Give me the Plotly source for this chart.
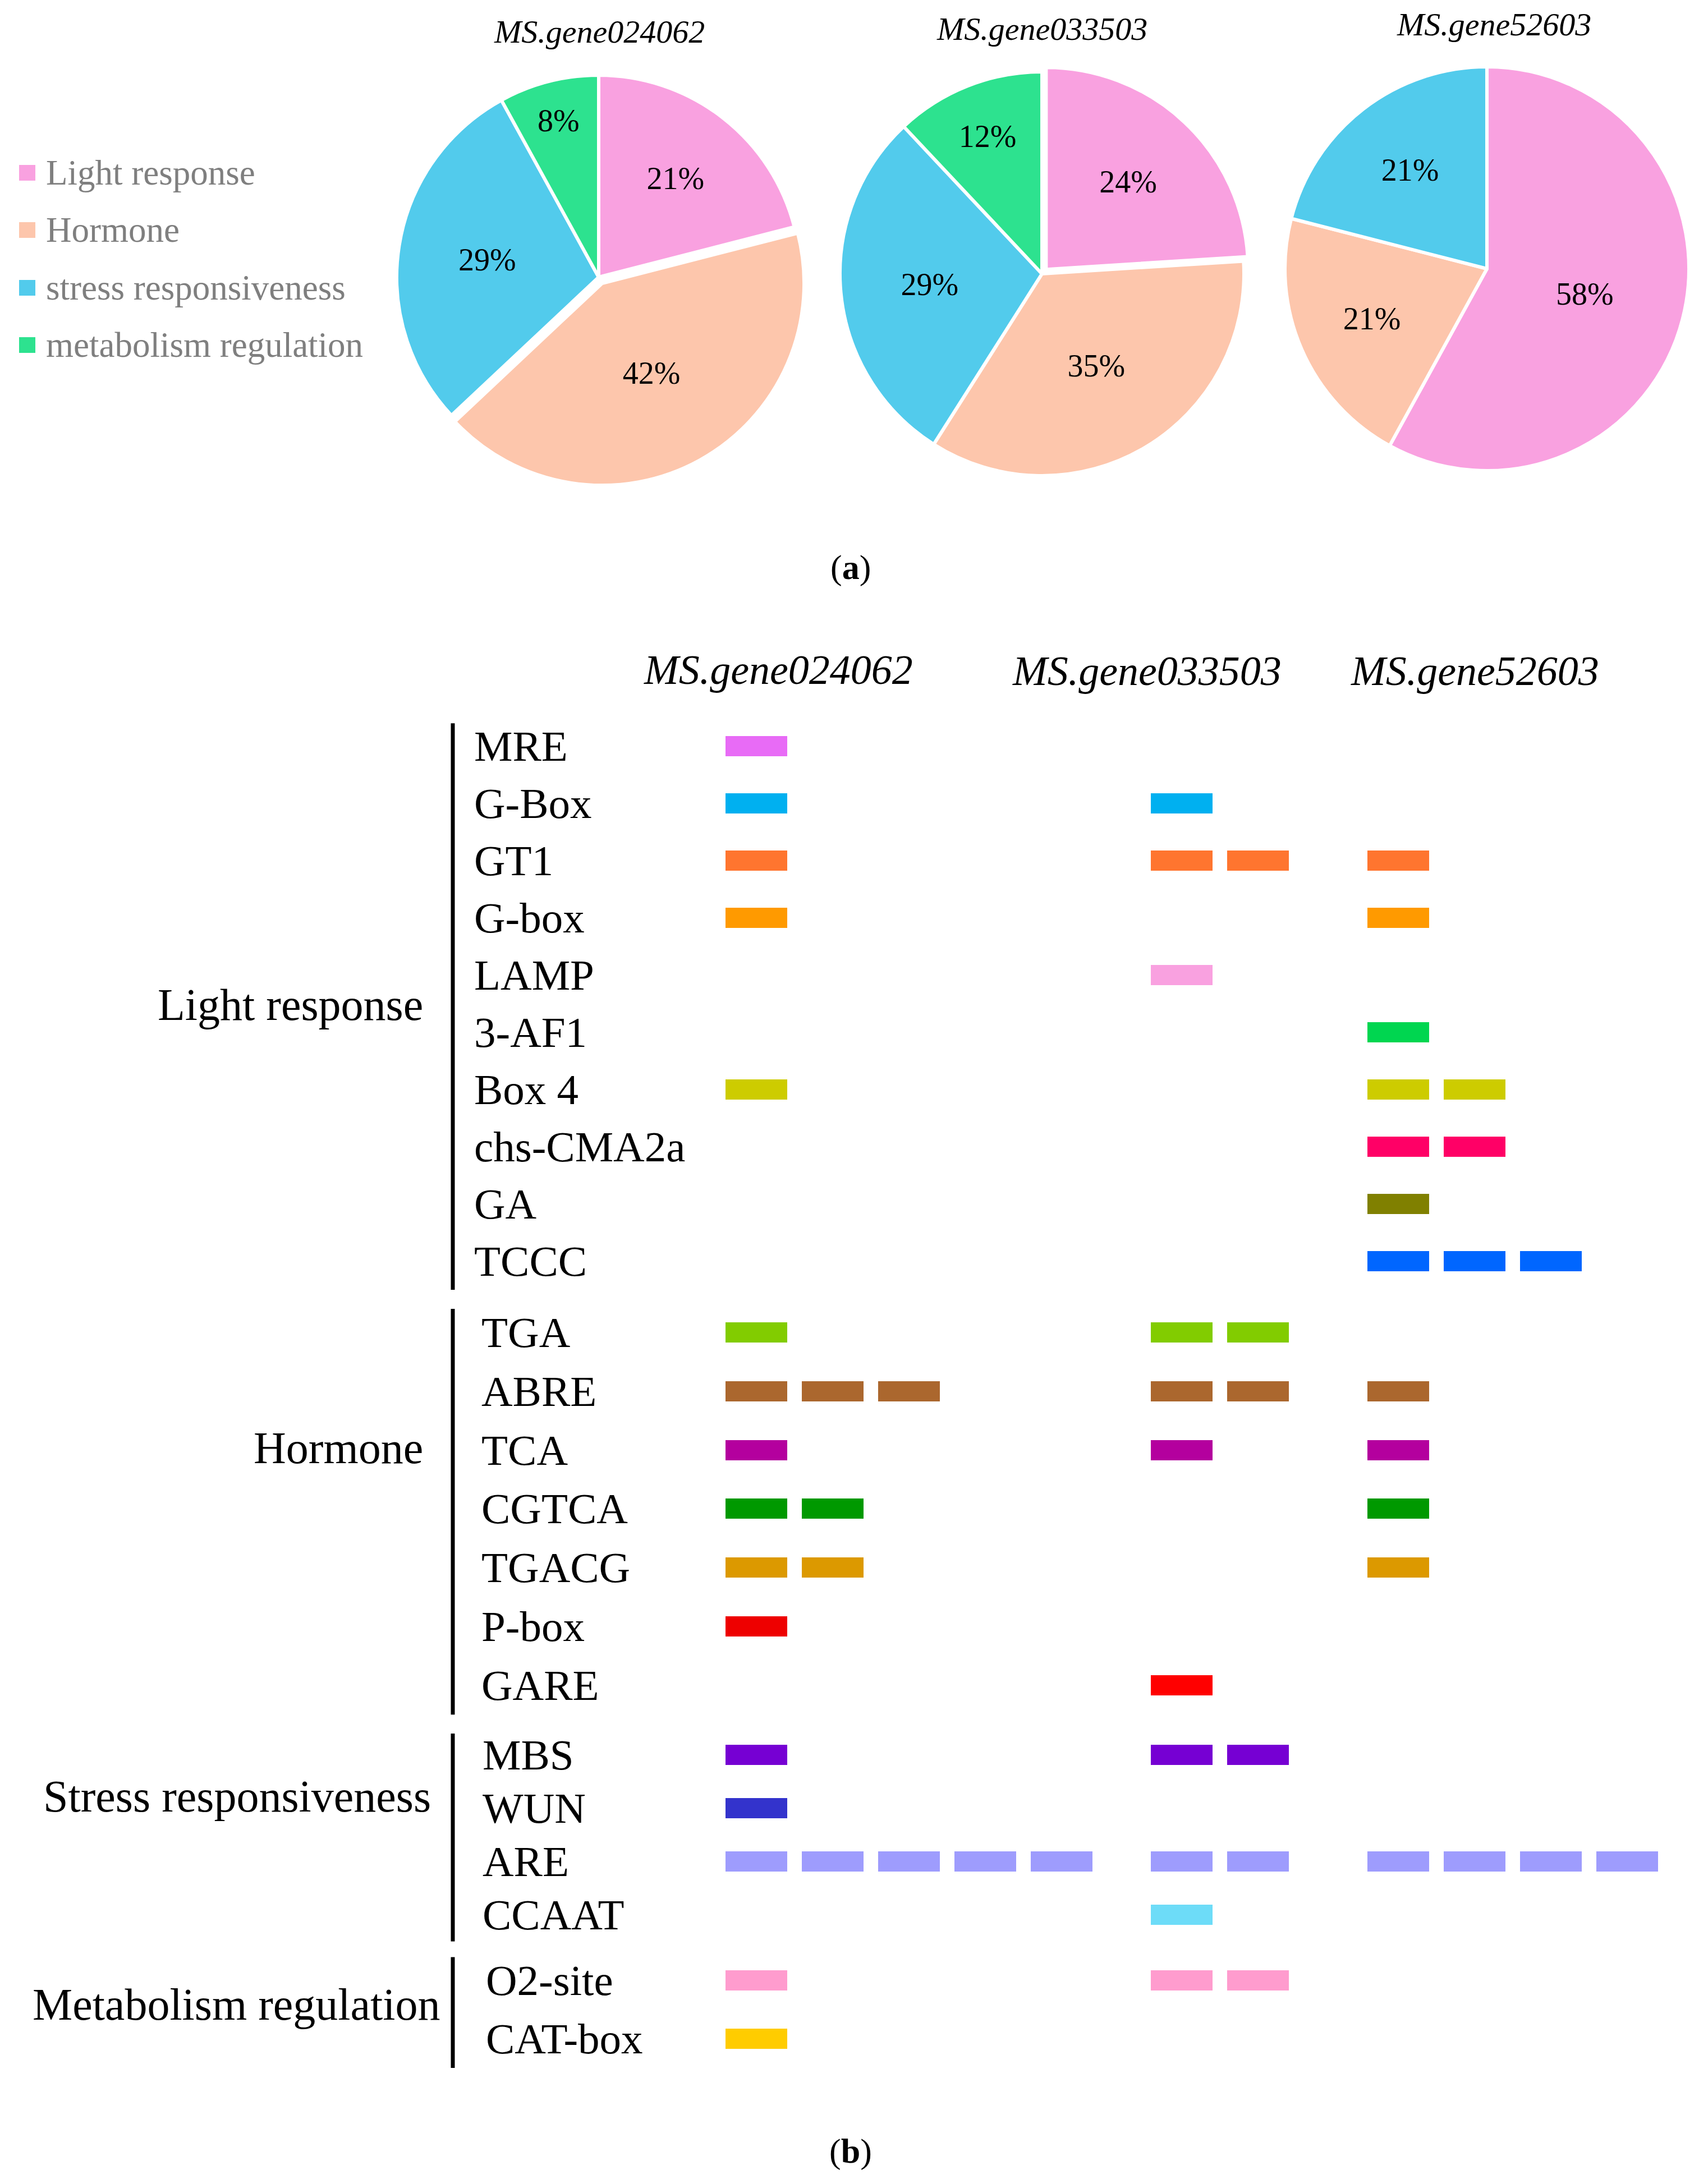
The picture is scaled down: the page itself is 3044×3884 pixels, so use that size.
import plotly.graph_objects as go

W, H = 3044, 3884

# ---------------- data ----------------
genes = ["MS.gene024062", "MS.gene033503", "MS.gene52603"]
pie_categories = ["Light response", "Hormone", "stress responsiveness", "metabolism regulation"]
pie_024062 = [21, 42, 29, 8]
pie_033503 = [24, 35, 29, 12]
pie_52603 = [58, 21, 21, 0]

group_titles = ["Light response", "Hormone", "Stress responsiveness", "Metabolism regulation"]
light_elements = ["MRE", "G-Box", "GT1", "G-box", "LAMP", "3-AF1", "Box 4", "chs-CMA2a", "GA", "TCCC"]
hormone_elements = ["TGA", "ABRE", "TCA", "CGTCA", "TGACG", "P-box", "GARE"]
stress_elements = ["MBS", "WUN", "ARE", "CCAAT"]
metabolism_elements = ["O2-site", "CAT-box"]

# number of element copies per gene (gene024062, gene033503, gene52603)
light_counts = [[1, 1, 1, 1, 0, 0, 1, 0, 0, 0],
                [0, 1, 2, 0, 1, 0, 0, 0, 0, 0],
                [0, 0, 1, 1, 0, 1, 2, 2, 1, 3]]
hormone_counts = [[1, 3, 1, 2, 2, 1, 0],
                  [2, 2, 1, 0, 0, 0, 1],
                  [0, 1, 1, 1, 1, 0, 0]]
stress_counts = [[1, 1, 5, 0],
                 [2, 0, 2, 1],
                 [0, 0, 4, 0]]
metabolism_counts = [[1, 1],
                     [2, 0],
                     [0, 0]]

# ---------------- styles ----------------
FONT = "Liberation Serif, Times New Roman, serif"
pie_colors = ["#F9A1E0", "#FDC6AC", "#52CBEC", "#2DE28F"]
light_colors = ["#E86BF6", "#00B0F0", "#FF752F", "#FF9A00", "#F9A1E0", "#00D650",
                "#CDCC00", "#FF0066", "#808000", "#0066FF"]
hormone_colors = ["#82CC00", "#AB672E", "#B4009E", "#009900", "#DC9900", "#EE0000", "#FF0000"]
stress_colors = ["#7600D3", "#3333CC", "#9E9CFD", "#6DDCF8"]
metabolism_colors = ["#FF9CCE", "#FFCC00"]

pie_centers = [(1067, 494), (1857, 488), (2650, 479)]
pie_r = 360
pie_pulls = [[0, 0.035, 0, 0], [0.03, 0, 0, 0], [0, 0, 0, 0]]
pie_title_pos = [(1068, 57), (1857, 52), (2662, 43)]

group_start_px = [1330, 2375, 3128, 3530]
group_pitch_px = [102, 104.8, 95, 104]
group_label_x = [843, 856, 858, 864]
group_title_pos = [(756, 1791), (756, 2581), (770, 3202), (787, 3573)]
gene_left_px = [1293, 2051, 2437]
slot_px = 136
bar_len_px = 110
bar_thick_px = 36
header_pos = [(1387, 1194), (2044, 1196), (2628, 1196)]
bracket_x = 807


def px(x):
    return x / W


def py(y):
    return 1 - y / H


fig = go.Figure()

# ---------------- (a) pies ----------------
pie_values = [pie_024062, pie_033503, pie_52603]
for i, vals in enumerate(pie_values):
    keep = [j for j, v in enumerate(vals) if v > 0]
    cx, cy = pie_centers[i]
    pulls = [pie_pulls[i][j] for j in keep]
    half = pie_r * (1 + max(pulls))
    fig.add_trace(go.Pie(
        labels=[pie_categories[j] for j in keep],
        values=[vals[j] for j in keep],
        marker=dict(colors=[pie_colors[j] for j in keep], line=dict(color="white", width=6)),
        pull=pulls,
        sort=False, direction="clockwise", rotation=0,
        texttemplate="%{value}%", textposition="inside",
        insidetextorientation="horizontal",
        textfont=dict(family=FONT, size=56, color="black"),
        hoverinfo="label+percent",
        showlegend=False,
        domain=dict(x=[px(cx - half), px(cx + half)], y=[py(cy + half), py(cy - half)]),
    ))

annotations = []
shapes = []

for i, g in enumerate(genes):
    tx, ty = pie_title_pos[i]
    annotations.append(dict(text="<i>%s</i>" % g, x=px(tx), y=py(ty), xref="paper", yref="paper",
                            xanchor="center", yanchor="middle", showarrow=False,
                            font=dict(family=FONT, size=58, color="black")))

# manual legend
legend_y = [308, 410, 513, 615]
for j, c in enumerate(pie_categories):
    yc = legend_y[j]
    shapes.append(dict(type="rect", xref="paper", yref="paper",
                       x0=px(34), x1=px(63), y0=py(yc + 14), y1=py(yc - 14),
                       fillcolor=pie_colors[j], line=dict(width=0)))
    annotations.append(dict(text=c, x=px(80), y=py(yc), xref="paper", yref="paper",
                            xanchor="left", yanchor="middle", showarrow=False,
                            font=dict(family=FONT, size=63, color="#7F7F7F")))

annotations.append(dict(text="(<b>a</b>)", x=px(1516), y=py(1011), xref="paper", yref="paper",
                        xanchor="center", yanchor="middle", showarrow=False,
                        font=dict(family=FONT, size=62, color="black")))
annotations.append(dict(text="(<b>b</b>)", x=px(1516), y=py(3834), xref="paper", yref="paper",
                        xanchor="center", yanchor="middle", showarrow=False,
                        font=dict(family=FONT, size=62, color="black")))

# ---------------- (b) element map ----------------
for i, g in enumerate(genes):
    hx, hy = header_pos[i]
    annotations.append(dict(text="<i>%s</i>" % g, x=px(hx), y=py(hy), xref="paper", yref="paper",
                            xanchor="center", yanchor="middle", showarrow=False,
                            font=dict(family=FONT, size=74, color="black")))

groups = [
    (light_elements, light_counts, light_colors),
    (hormone_elements, hormone_counts, hormone_colors),
    (stress_elements, stress_counts, stress_colors),
    (metabolism_elements, metabolism_counts, metabolism_colors),
]

for gi, (elements, counts, colors) in enumerate(groups):
    y0 = group_start_px[gi]
    pitch = group_pitch_px[gi]
    rows_y = [y0 + r * pitch for r in range(len(elements))]
    # bracket line
    shapes.append(dict(type="line", xref="paper", yref="paper",
                       x0=px(bracket_x), x1=px(bracket_x),
                       y0=py(rows_y[0] - 0.4 * pitch), y1=py(rows_y[-1] + 0.5 * pitch),
                       line=dict(color="black", width=7)))
    gx, gy = group_title_pos[gi]
    annotations.append(dict(text=group_titles[gi], x=px(gx), y=py(gy), xref="paper", yref="paper",
                            xanchor="right", yanchor="middle", showarrow=False,
                            font=dict(family=FONT, size=80, color="black")))
    for r, el in enumerate(elements):
        annotations.append(dict(text=el, x=px(group_label_x[gi]), y=py(rows_y[r]),
                                xref="paper", yref="paper", xanchor="left", yanchor="middle",
                                showarrow=False, font=dict(family=FONT, size=77, color="black")))
        bases, ys = [], []
        for k in range(3):
            n = counts[k][r]
            for c in range(n):
                bases.append(gene_left_px[k] + c * slot_px)
                ys.append(rows_y[r])
        if bases:
            fig.add_trace(go.Bar(
                orientation="h", x=[bar_len_px] * len(bases), base=bases, y=ys,
                width=bar_thick_px, marker=dict(color=colors[r], line=dict(width=0)),
                name=el, showlegend=False, hoverinfo="name",
            ))

fig.update_layout(
    width=W, height=H,
    margin=dict(l=0, r=0, t=0, b=0),
    paper_bgcolor="white", plot_bgcolor="white",
    xaxis=dict(range=[0, W], domain=[0, 1], visible=False, fixedrange=True),
    yaxis=dict(range=[H, 0], domain=[0, 1], visible=False, fixedrange=True),
    annotations=annotations,
    shapes=shapes,
    showlegend=False,
    barmode="overlay",
    bargap=0,
)

fig.write_html("out.html", config={"displayModeBar": False},
               post_script="document.body.style.margin='0';document.body.style.overflow='hidden';")
